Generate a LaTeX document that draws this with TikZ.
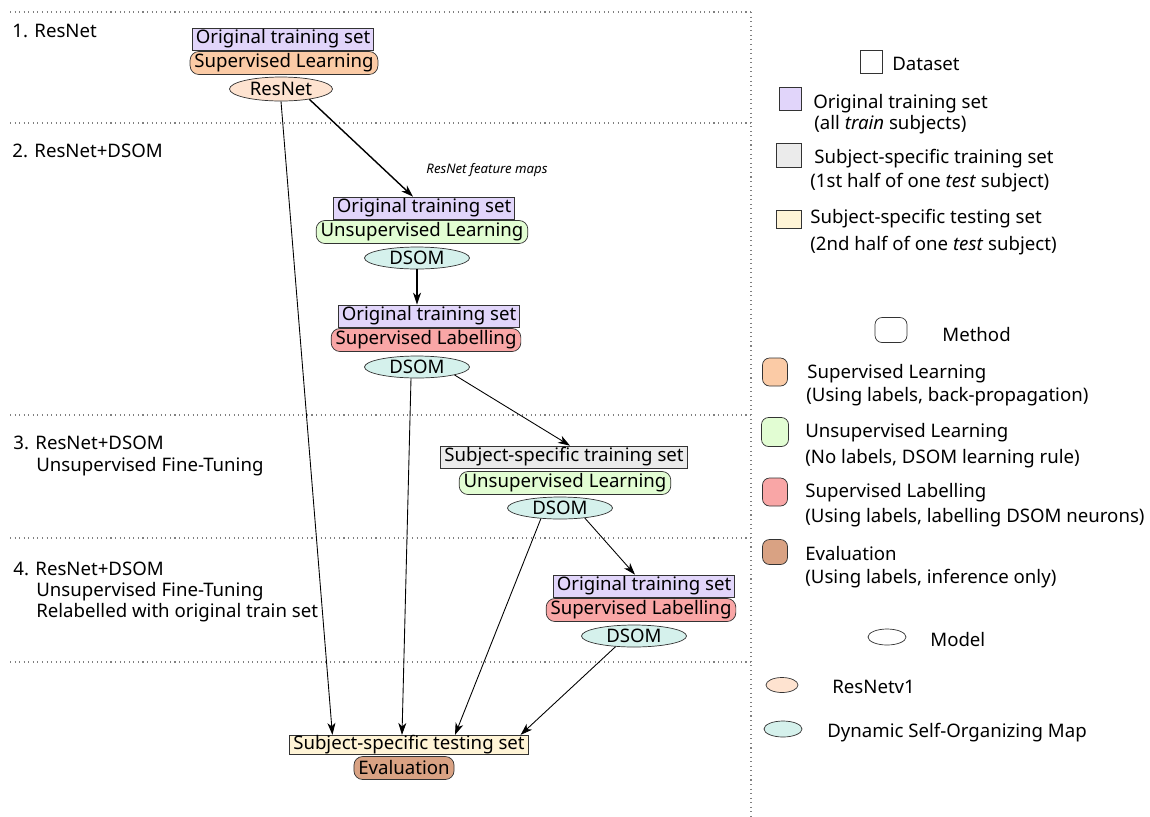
\documentclass[tikz,border=0pt]{standalone}
\usepackage{fontspec}
\setmainfont{Noto Sans}
\usetikzlibrary{shapes.geometric,arrows.meta}
\definecolor{cOrig}{HTML}{E1D5FA}
\definecolor{cSubTr}{HTML}{EBEBEB}
\definecolor{cSubTe}{HTML}{FFF4D6}
\definecolor{cSL}{HTML}{FBCBA6}
\definecolor{cUL}{HTML}{E2FDD3}
\definecolor{cSLab}{HTML}{F9A6A6}
\definecolor{cEval}{HTML}{D9A283}
\definecolor{cRes}{HTML}{FEE3D0}
\definecolor{cDsom}{HTML}{D5F1EC}
\tikzset{
  dset/.style  = {rectangle, draw=black!80, fill=#1, minimum height=4.4mm, inner xsep=2pt, inner ysep=0pt},
  meth/.style  = {rectangle, rounded corners=5pt, draw=black!80, fill=#1, minimum height=4.6mm, inner xsep=2.5pt, inner ysep=0pt},
  model/.style = {ellipse, draw=black!80, fill=#1, minimum width=21mm, minimum height=4.4mm, inner sep=0pt},
  sw/.style    = {rectangle, draw=black!80, fill=#1, inner sep=0pt},
  swr/.style   = {rectangle, rounded corners=4pt, draw=black!80, fill=#1, inner sep=0pt},
  swe/.style   = {ellipse, draw=black!80, fill=#1, inner sep=0pt},
  et/.style    = {anchor=base west, inner sep=0pt},
  arr/.style   = {-{Stealth[length=2.4mm, width=1.6mm, inset=0.7mm]}, line width=0.5pt},
  sep/.style   = {dotted, line width=0.6pt, black!50}
}

\begin{document}
\begin{tikzpicture}[x=0.02cm, y=-0.02cm, font=\fontsize{10.6}{13}\selectfont]
  \useasboundingbox (0,0) rectangle (1150,816);
  % section separators
  \foreach \yy in {12,123,415,538,662} \draw[sep] (10,\yy) -- (751,\yy);
  \draw[sep] (751,12) -- (751,816);
  \node[et] (l1) at (12,37) {1. ResNet};
  \node[et] (l2) at (12,157) {2. ResNet+DSOM};
  \node[et] (l3) at (13,449) {3. ResNet+DSOM}; \node[et] (l3b) at (36,471) {Unsupervised Fine-Tuning};
  \node[et] (l4) at (13,575) {4. ResNet+DSOM}; \node[et] (l4b) at (36,596) {Unsupervised Fine-Tuning};
  \node[et] (l4c) at (36,617) {Relabelled with original train set};

  % 1. ResNet
  \node[dset=cOrig] (o1) at (283,39) {Original training set};
  \node[meth=cSL] (m1) at (284,63) {Supervised Learning};
  \node[model=cRes, minimum width=20.6mm, minimum height=4.8mm] (rn) at (281,89) {ResNet};
  % 2. ResNet+DSOM
  \node[dset=cOrig] (o2) at (424,208) {Original training set};
  \node[meth=cUL] (m2) at (422,232) {Unsupervised Learning};
  \node[model=cDsom] (d2a) at (417,258) {DSOM};
  \node[dset=cOrig] (o3) at (429,316) {Original training set};
  \node[meth=cSLab] (m3) at (426,340) {Supervised Labelling};
  \node[model=cDsom] (d2b) at (417,367) {DSOM};
  % 3. fine-tuning
  \node[dset=cSubTr] (s3) at (564,457) {Subject-specific training set};
  \node[meth=cUL] (m4) at (565,483) {Unsupervised Learning};
  \node[model=cDsom] (d3) at (560,508) {DSOM};
  % 4. relabelled
  \node[dset=cOrig] (o4) at (644,586) {Original training set};
  \node[meth=cSLab] (m5) at (641,610) {Supervised Labelling};
  \node[model=cDsom] (d4) at (634,636) {DSOM};
  % evaluation
  \node[dset=cSubTe, minimum height=3.9mm] (tst) at (409,745) {Subject-specific testing set};
  \node[meth=cEval] (ev) at (404,768) {Evaluation};

  \draw[arr] (rn.south) -- ([xshift=8.6mm]tst.north west);
  \draw[arr, line width=0.8pt] (rn.-20) -- ([xshift=-2.2mm]o2.north);
  \node[font=\fontsize{7.5}{9}\selectfont\itshape] (fm) at (487,170) {ResNet feature maps};
  \draw[arr, line width=0.8pt] (d2a.south) -- (d2a.south |- o3.north);
  \draw[arr] (d2b.-12) -- ([xshift=1.2mm]s3.north);
  \draw[arr] ([xshift=-1.2mm]d2b.south) -- ([xshift=-1.4mm]tst.north);
  \draw[arr] (d3.-151) -- ([xshift=9.2mm]tst.north);
  \draw[arr] (d3.-22) -- ([xshift=-1.8mm]o4.north);
  \draw[arr] (d4.-150) -- ([xshift=-1.6mm]tst.north east);

  % legend
  \node[sw=white, minimum width=4.4mm, minimum height=4.6mm] (kD) at (871,62) {}; \node[et] (tD) at (892,70) {Dataset};
  \node[sw=cOrig, minimum width=4.4mm, minimum height=4.6mm] (kO) at (790,99) {}; \node[et] (tO) at (813,108) {Original training set};
  \node[et] (tO2) at (814,129) {(all \textit{train} subjects)};
  \node[sw=cSubTr, minimum width=5mm, minimum height=4.8mm] (kT) at (789,155) {}; \node[et] (tT) at (814,163) {Subject-specific training set};
  \node[et] (tT2) at (810,187) {(1st half of one \textit{test} subject)};
  \node[sw=cSubTe, minimum width=5mm, minimum height=3.6mm] (kE) at (789,219) {}; \node[et] (tE) at (810,223) {Subject-specific testing set};
  \node[et] (tE2) at (810,250) {(2nd half of one \textit{test} subject)};
  \node[swr=white, minimum width=6.4mm, minimum height=5mm] (kM) at (891,330) {}; \node[et] (tM) at (942,341) {Method};
  \node[swr=cSL, minimum width=5mm, minimum height=5.6mm] (kSL) at (775,372) {}; \node[et] (tSL) at (807,378) {Supervised Learning};
  \node[et] (tSL2) at (806,401) {(Using labels, back-propagation)};
  \node[swr=cUL, minimum width=5.4mm, minimum height=5.8mm] (kUL) at (775,432) {}; \node[et] (tUL) at (805,437) {Unsupervised Learning};
  \node[et] (tUL2) at (805,463) {(No labels, DSOM learning rule)};
  \node[swr=cSLab, minimum width=5mm, minimum height=5.6mm] (kLab) at (775,492) {}; \node[et] (tLab) at (805,497) {Supervised Labelling};
  \node[et] (tLab2) at (805,522) {(Using labels, labelling DSOM neurons)};
  \node[swr=cEval, minimum width=5mm, minimum height=5mm] (kEv) at (775,552) {}; \node[et] (tEv) at (805,560) {Evaluation};
  \node[et] (tEv2) at (805,583) {(Using labels, inference only)};
  \node[swe=white, minimum width=7.6mm, minimum height=3.2mm] (kMo) at (887,637) {}; \node[et] (tMo) at (930,646) {Model};
  \node[swe=cRes, minimum width=6.4mm, minimum height=3mm] (kR) at (782,685) {}; \node[et] (tR) at (832,693) {ResNetv1};
  \node[swe=cDsom, minimum width=7.6mm, minimum height=3.2mm] (kDs) at (783,729) {}; \node[et] (tDs) at (827,737) {Dynamic Self-Organizing Map};
\end{tikzpicture}
\end{document}
